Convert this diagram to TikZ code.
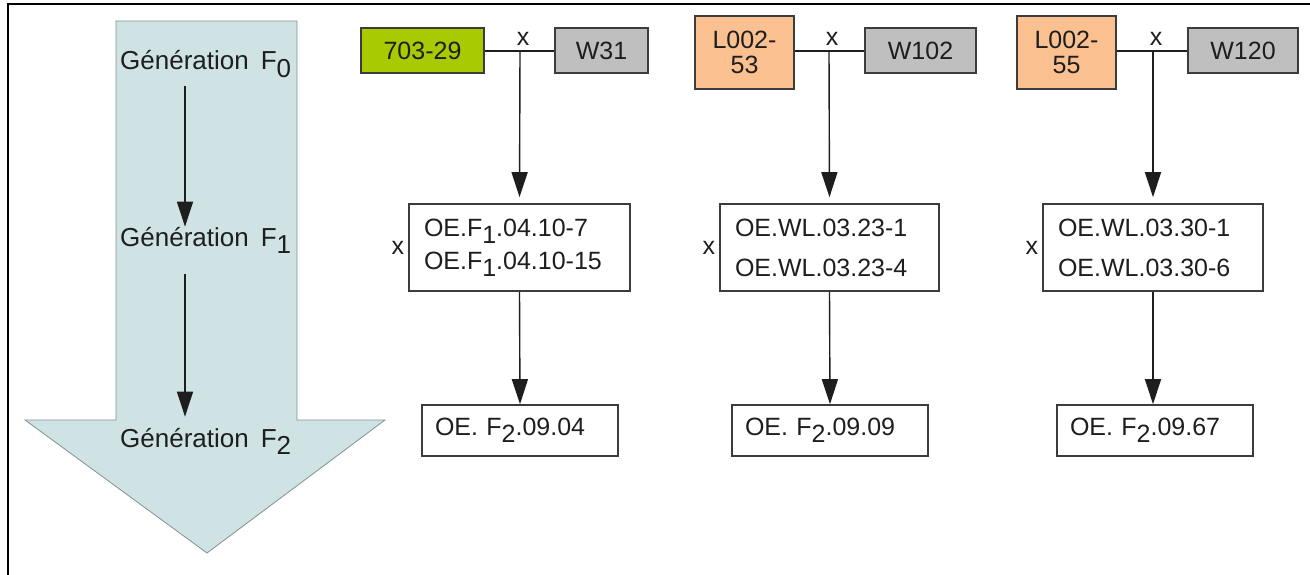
\documentclass[tikz,border=0pt]{standalone}
\usepackage{fontspec}
\setmainfont{Liberation Sans}
\usetikzlibrary{arrows.meta}
\definecolor{bigarrow}{RGB}{207,227,228}
\definecolor{bigarrowline}{RGB}{130,145,145}
\definecolor{greenbox}{RGB}{168,202,0}
\definecolor{orangebox}{RGB}{250,192,144}
\definecolor{graybox}{RGB}{191,191,191}
\definecolor{boxline}{RGB}{60,60,60}
\definecolor{textc}{RGB}{30,30,30}
\newcommand\sbs[1]{\raisebox{-0.28em}{#1}}
\begin{document}
\begin{tikzpicture}[x=1pt,y=-1pt,
  every node/.style={text=textc},
  fnt/.style={font=\fontsize{25}{25}\selectfont},
  gen/.style={font=\fontsize{26}{26}\selectfont, inner sep=0pt, anchor=base west},
  parentbox/.style={draw=boxline, line width=1.6pt, fnt, inner sep=0pt, align=center, minimum height=45},
  midbox/.style={draw=boxline, line width=1.6pt, fill=white, fnt, inner xsep=15pt, inner ysep=0pt, align=left, minimum height=87},
  lowbox/.style={draw=boxline, line width=1.6pt, fill=white, fnt, inner xsep=13pt, inner ysep=0pt, align=left, minimum height=51},
  crossmark/.style={fnt, inner sep=0pt},
  link/.style={draw=textc, line width=1.4pt},
  arr/.style={draw=textc, line width=1.4pt, -{Triangle[length=25pt,width=16pt]}}
]
\useasboundingbox (0,0) rectangle (1310,575);
% frame
\draw[line width=1.6pt, black] (8,575) -- (8,4) -- (1310,4);
% big arrow
\draw[fill=bigarrow, draw=bigarrowline, line width=0.8pt]
  (116,21) -- (297,21) -- (297,420) -- (385,420) -- (207,553) -- (25,420) -- (116,420) -- cycle;
\node[gen] (g0) at (120,70) {Génération\hspace{12pt}F\sbs{0}};
\node[gen] (g1) at (120,246) {Génération\hspace{12pt}F\sbs{1}};
\node[gen] (g2) at (120,447) {Génération\hspace{12pt}F\sbs{2}};
\coordinate (ax) at (185,0);
\draw[arr, shorten <=8pt] (g0.south -| ax) -- (g1.north -| ax);
\draw[arr, shorten <=21pt, shorten >=11pt] (g1.south -| ax) -- (g2.north -| ax);

% group 1
\node[parentbox, fill=greenbox, minimum width=123] (p1a) at (422.5,50.5) {703-29};
\node[parentbox, fill=graybox, minimum width=93] (p1b) at (601.5,50.5) {W31};
\coordinate (c1) at (520,51);
\draw[link] (p1a.east |- c1) -- (p1b.west |- c1);
\node[crossmark] (x1a) at (523,39) {x};
\node[midbox, text width=191] (m1) at (519.5,247.5) {OE.F\sbs{1}.04.10-7\\[8pt]OE.F\sbs{1}.04.10-15};
\node[crossmark, anchor=east] (x1b) at ([xshift=-4pt]m1.west) {x};
\node[lowbox, text width=170] (f1) at (520,430.5) {OE. F\sbs{2}.09.04};
\draw[arr, shorten >=6pt] (c1) -- (m1.north);
\draw[arr] (m1.south) -- (f1.north);

% group 2
\node[parentbox, fill=orangebox, minimum width=99, minimum height=73] (p2a) at (744.5,52.5) {L002-\\53};
\node[parentbox, fill=graybox, minimum width=111] (p2b) at (920.5,50.5) {W102};
\coordinate (c2) at (829,51);
\draw[link] (p2a.east |- c2) -- (p2b.west |- c2);
\node[crossmark] (x2a) at (832,39) {x};
\node[midbox, text width=189] (m2) at (829.5,247.5) {OE.WL.03.23-1\\[15pt]OE.WL.03.23-4};
\node[crossmark, anchor=east] (x2b) at ([xshift=-4pt]m2.west) {x};
\node[lowbox, text width=170] (f2) at (830,430.5) {OE. F\sbs{2}.09.09};
\draw[arr, shorten >=6pt] (c2) -- (m2.north);
\draw[arr] (m2.south) -- (f2.north);

% group 3
\node[parentbox, fill=orangebox, minimum width=99, minimum height=73] (p3a) at (1066.5,52.5) {L002-\\55};
\node[parentbox, fill=graybox, minimum width=110] (p3b) at (1243,50.5) {W120};
\coordinate (c3) at (1153,51);
\draw[link] (p3a.east |- c3) -- (p3b.west |- c3);
\node[crossmark] (x3a) at (1156,39) {x};
\node[midbox, text width=190] (m3) at (1153,247.5) {OE.WL.03.30-1\\[15pt]OE.WL.03.30-6};
\node[crossmark, anchor=east] (x3b) at ([xshift=-4pt]m3.west) {x};
\node[lowbox, text width=170] (f3) at (1155,430.5) {OE. F\sbs{2}.09.67};
\draw[arr, shorten >=6pt] (c3) -- (m3.north);
\draw[arr] (m3.south) -- (f3.north -| m3.south);
\end{tikzpicture}
\end{document}
